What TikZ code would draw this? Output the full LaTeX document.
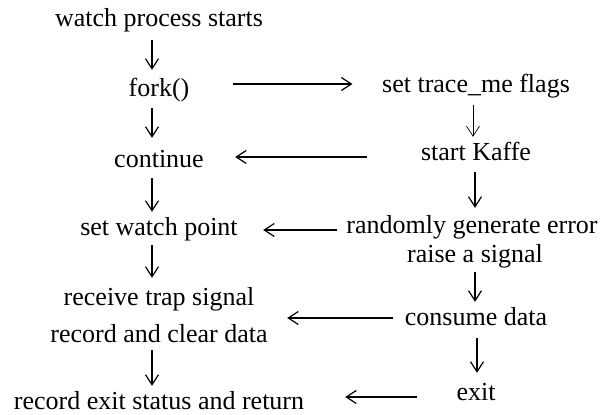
\documentclass[tikz,border=0pt]{standalone}
\usepackage{fontspec}
\setmainfont{Liberation Serif}
\newfontfamily\tnrfont{Liberation Serif}
\usetikzlibrary{arrows.meta}
\begin{document}
\begin{tikzpicture}[x=1pt,y=-1pt,
  txt/.style={font=\tnrfont\fontsize{26}{30}\selectfont, inner sep=0pt, text height=19pt, text depth=6pt, anchor=base},
  arr/.style={line width=1.2pt, -{Straight Barb[length=10pt,width=13pt]}},
  thinarr/.style={line width=0.7pt, -{Straight Barb[length=10pt,width=13pt]}}]
\useasboundingbox (0,0) rectangle (608,415);
% left column
\node[txt] (watch) at (159,26) {watch process starts};
\node[txt] (fork)  at (159,96) {fork()};
\node[txt] (cont)  at (159,167) {continue};
\node[txt] (swp)   at (159,235) {set watch point};
\node[txt] (recv)  at (159,305) {receive trap signal};
\node[txt] (rclr)  at (159,342) {record and clear data};
\node[txt, text depth=4pt] (rexit) at (159,409) {record exit status and return};
% right column
\node[txt] (trace) at (476,92) {set trace\_me flags};
\node[txt] (kaffe) at (476,160) {start Kaffe};
\node[txt] (rand)  at (472,233) {randomly generate error};
\node[txt] (raise) at (475,262) {raise a signal};
\node[txt] (cons)  at (476,325) {consume data};
\node[txt] (exit)  at (476,400) {exit};
% vertical arrows, left
\draw[arr] ([xshift=-7pt,yshift=-8pt]watch.south) -- ([xshift=-7pt,yshift=7pt]fork.north);
\draw[arr] ([xshift=-7pt,yshift=-6pt]fork.south) -- ([xshift=-7pt,yshift=10pt]cont.north);
\draw[arr] ([xshift=-7pt,yshift=-5pt]cont.south) -- ([xshift=-7pt,yshift=4pt]swp.north);
\draw[arr] ([xshift=-7pt,yshift=-4pt]swp.south) -- ([xshift=-7pt,yshift=8pt]recv.north);
\draw[arr] ([xshift=-7pt,yshift=-2pt]rclr.south) -- ([xshift=-7pt,yshift=4pt]rexit.north);
% vertical arrows, right
\draw[thinarr] ([xshift=-3pt,yshift=-7pt]trace.south) -- ([xshift=-3pt,yshift=4pt]kaffe.north);
\draw[arr] ([xshift=-1pt,yshift=-6pt]kaffe.south) -- ([xshift=3pt,yshift=6pt]rand.north);
\draw[arr] ([yshift=-4pt]raise.south) -- ([xshift=-1pt,yshift=4pt]cons.north);
\draw[arr] ([xshift=1pt,yshift=-7pt]cons.south) -- ([xshift=1pt,yshift=8pt]exit.north);
% horizontal arrows
\draw[arr] ([xshift=43.7pt,yshift=5.5pt]fork.east) -- ([xshift=-29.5pt,yshift=1.5pt]trace.west);
\draw[arr] ([xshift=-53.8pt,yshift=-3.5pt]kaffe.west) -- ([xshift=31.2pt,yshift=3.5pt]cont.east);
\draw[arr] ([xshift=-9.4pt,yshift=-3.5pt]rand.west) -- ([xshift=25.3pt,yshift=-1.5pt]swp.east);
\draw[arr] ([xshift=-11.9pt,yshift=0.5pt]cons.west) -- ([xshift=19.4pt,yshift=17.5pt]rclr.east);
\draw[arr] ([xshift=-39.5pt,yshift=-3.5pt]exit.west) -- ([xshift=40.9pt,yshift=4.5pt]rexit.east);
\end{tikzpicture}
\end{document}
